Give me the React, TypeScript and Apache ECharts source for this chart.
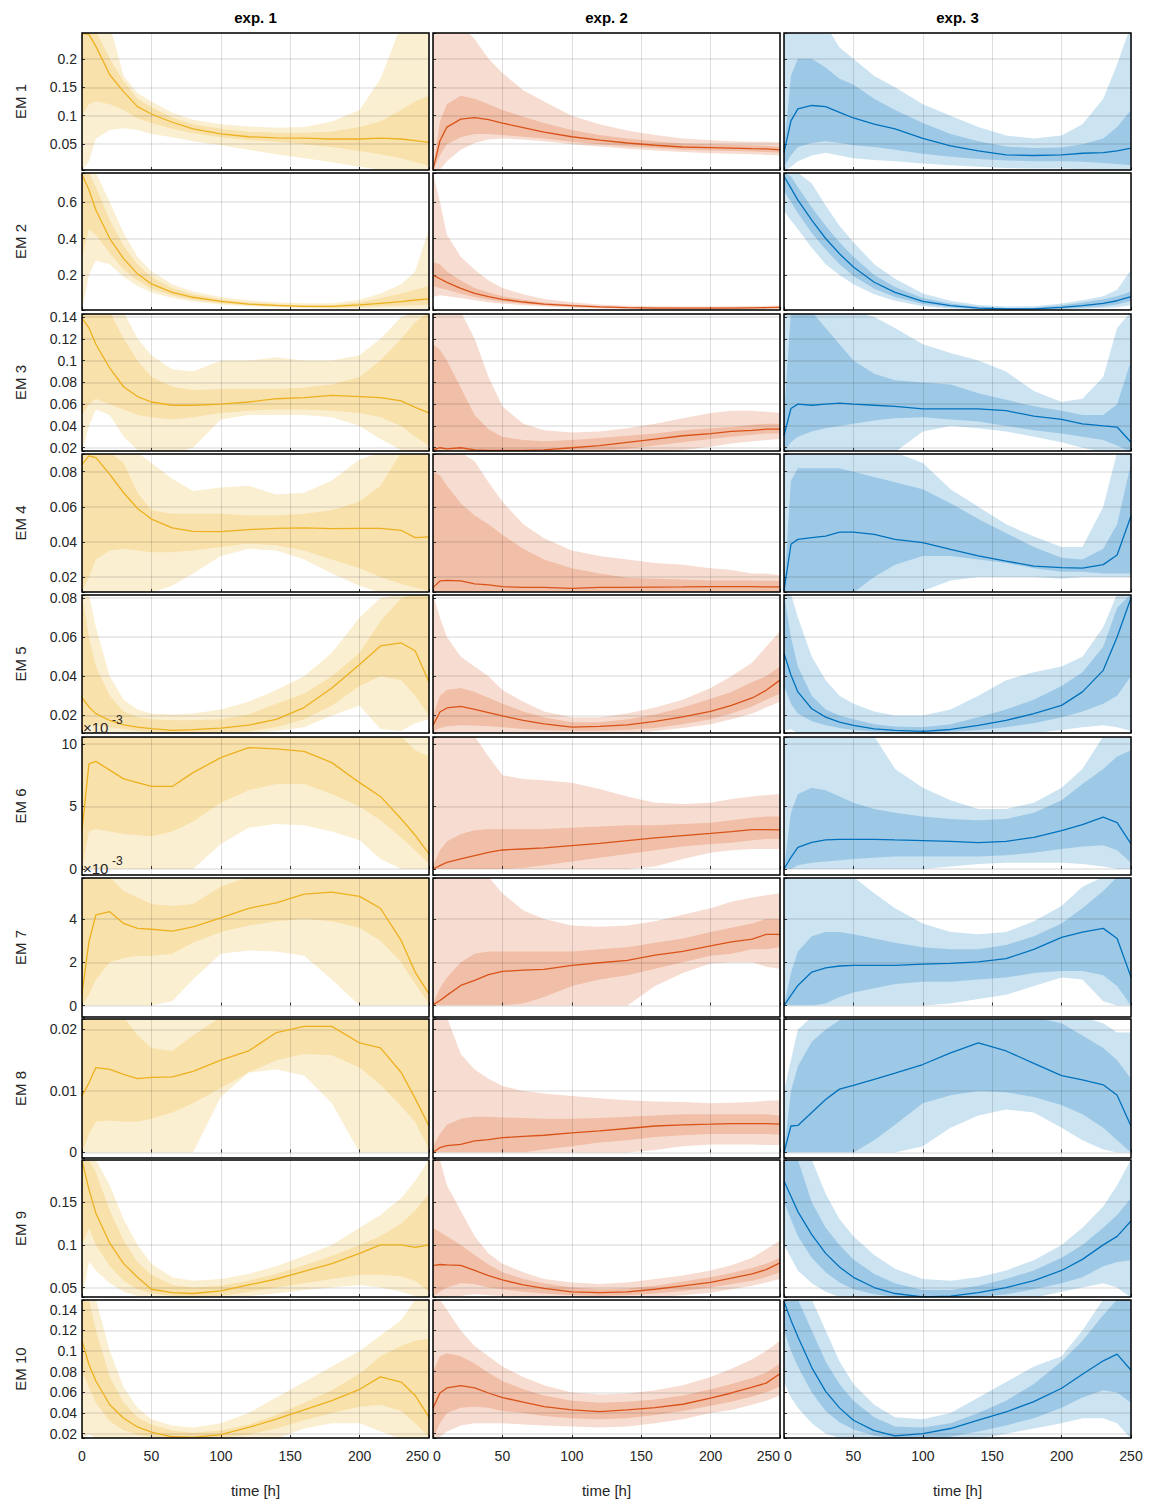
import React, { useEffect, useRef } from "react";
import * as echarts from "echarts";

// time samples [h]
const T = [0, 5, 10, 20, 30, 40, 50, 65, 80, 100, 120, 140, 160, 180, 200, 215, 230, 240, 250];

// Each panel: lo = outer lower, ilo = inner lower, med = median, ihi = inner upper, hi = outer upper
// EM 1
const EM1_E1 = {
  med: [0.245, 0.243, 0.222, 0.172, 0.142, 0.116, 0.103, 0.0885, 0.077, 0.068, 0.063, 0.061, 0.0605, 0.059, 0.059, 0.0605, 0.059, 0.056, 0.053],
  ihi: [0.26, 0.26, 0.25, 0.2, 0.16, 0.13, 0.115, 0.097, 0.085, 0.077, 0.072, 0.07, 0.07, 0.072, 0.08, 0.09, 0.11, 0.125, 0.135],
  ilo: [0.1, 0.12, 0.125, 0.12, 0.11, 0.095, 0.087, 0.077, 0.069, 0.062, 0.057, 0.054, 0.05, 0.045, 0.038, 0.032, 0.025, 0.018, 0.012],
  hi: [0.26, 0.26, 0.26, 0.26, 0.17, 0.14, 0.125, 0.105, 0.093, 0.085, 0.081, 0.079, 0.08, 0.09, 0.11, 0.165, 0.26, 0.3, 0.3],
  lo: [0.004, 0.02, 0.06, 0.075, 0.078, 0.075, 0.068, 0.062, 0.055, 0.048, 0.04, 0.032, 0.025, 0.018, 0.01, 0.005, 0.003, 0.003, 0.003],
};
const EM1_E2 = {
  med: [0.005, 0.056, 0.08, 0.094, 0.0965, 0.093, 0.087, 0.079, 0.071, 0.063, 0.057, 0.052, 0.048, 0.045, 0.044, 0.043, 0.042, 0.0415, 0.04],
  ihi: [0.006, 0.09, 0.12, 0.135, 0.13, 0.12, 0.11, 0.098, 0.087, 0.075, 0.066, 0.06, 0.055, 0.051, 0.05, 0.049, 0.048, 0.047, 0.046],
  ilo: [0.004, 0.03, 0.05, 0.062, 0.068, 0.068, 0.066, 0.063, 0.06, 0.054, 0.05, 0.046, 0.043, 0.04, 0.039, 0.038, 0.037, 0.036, 0.035],
  hi: [0.26, 0.26, 0.26, 0.26, 0.235, 0.2, 0.175, 0.145, 0.125, 0.1, 0.085, 0.074, 0.066, 0.06, 0.057, 0.055, 0.054, 0.054, 0.053],
  lo: [0.003, 0.005, 0.02, 0.04, 0.052, 0.058, 0.06, 0.058, 0.055, 0.05, 0.046, 0.042, 0.039, 0.036, 0.034, 0.033, 0.032, 0.031, 0.03],
};
const EM1_E3 = {
  med: [0.035, 0.091, 0.112, 0.118, 0.116, 0.106, 0.096, 0.085, 0.077, 0.06, 0.047, 0.038, 0.031, 0.03, 0.031, 0.034, 0.035, 0.038, 0.043],
  ihi: [0.04, 0.17, 0.2, 0.2, 0.185, 0.165, 0.155, 0.13, 0.11, 0.087, 0.068, 0.055, 0.046, 0.043, 0.044, 0.05, 0.06, 0.08, 0.11],
  ilo: [0.01, 0.03, 0.045, 0.052, 0.055, 0.052, 0.048, 0.045, 0.04, 0.033, 0.028, 0.024, 0.021, 0.02, 0.02, 0.019, 0.017, 0.015, 0.013],
  hi: [0.26, 0.26, 0.26, 0.26, 0.26, 0.22, 0.2, 0.17, 0.15, 0.12, 0.1, 0.08, 0.065, 0.06, 0.065, 0.085, 0.13, 0.19, 0.26],
  lo: [0.003, 0.01, 0.02, 0.03, 0.035, 0.03, 0.025, 0.022, 0.02, 0.016, 0.013, 0.01, 0.008, 0.007, 0.007, 0.006, 0.005, 0.004, 0.004],
};
// EM 2
const EM2_E1 = {
  med: [0.749, 0.666, 0.556, 0.4, 0.29, 0.207, 0.152, 0.106, 0.079, 0.057, 0.042, 0.035, 0.029, 0.029, 0.037, 0.046, 0.055, 0.064, 0.07],
  ihi: [0.76, 0.76, 0.68, 0.5, 0.36, 0.26, 0.19, 0.13, 0.095, 0.068, 0.05, 0.042, 0.036, 0.036, 0.05, 0.075, 0.1, 0.12, 0.14],
  ilo: [0.3, 0.45, 0.42, 0.32, 0.23, 0.17, 0.125, 0.088, 0.066, 0.047, 0.035, 0.029, 0.024, 0.022, 0.025, 0.03, 0.032, 0.035, 0.04],
  hi: [0.76, 0.76, 0.76, 0.6, 0.43, 0.3, 0.22, 0.15, 0.11, 0.08, 0.062, 0.052, 0.046, 0.046, 0.065, 0.1, 0.15, 0.22, 0.45],
  lo: [0.01, 0.2, 0.28, 0.26, 0.19, 0.14, 0.105, 0.075, 0.056, 0.04, 0.03, 0.024, 0.02, 0.018, 0.018, 0.018, 0.018, 0.016, 0.012],
};
const EM2_E2 = {
  med: [0.2, 0.18, 0.16, 0.128, 0.1, 0.082, 0.068, 0.053, 0.042, 0.033, 0.026, 0.022, 0.02, 0.02, 0.02, 0.02, 0.021, 0.022, 0.024],
  ihi: [0.27, 0.26, 0.22, 0.17, 0.13, 0.105, 0.085, 0.065, 0.051, 0.04, 0.031, 0.026, 0.024, 0.023, 0.023, 0.024, 0.025, 0.026, 0.028],
  ilo: [0.14, 0.13, 0.12, 0.098, 0.08, 0.066, 0.055, 0.043, 0.035, 0.027, 0.022, 0.019, 0.017, 0.017, 0.017, 0.017, 0.018, 0.019, 0.02],
  hi: [0.76, 0.6, 0.42, 0.3, 0.23, 0.17, 0.13, 0.095, 0.07, 0.052, 0.04, 0.033, 0.03, 0.029, 0.029, 0.03, 0.031, 0.032, 0.034],
  lo: [0.08, 0.09, 0.085, 0.075, 0.062, 0.052, 0.044, 0.035, 0.028, 0.022, 0.018, 0.015, 0.014, 0.014, 0.014, 0.014, 0.014, 0.015, 0.016],
};
const EM2_E3 = {
  med: [0.74, 0.675, 0.61, 0.5, 0.4, 0.317, 0.244, 0.161, 0.106, 0.057, 0.033, 0.02, 0.015, 0.016, 0.024, 0.033, 0.046, 0.06, 0.082],
  ihi: [0.76, 0.74, 0.68, 0.57, 0.47, 0.38, 0.3, 0.2, 0.135, 0.075, 0.045, 0.028, 0.02, 0.022, 0.035, 0.05, 0.068, 0.085, 0.11],
  ilo: [0.66, 0.6, 0.54, 0.43, 0.34, 0.26, 0.195, 0.125, 0.08, 0.042, 0.025, 0.015, 0.012, 0.012, 0.016, 0.022, 0.03, 0.04, 0.058],
  hi: [0.76, 0.76, 0.76, 0.7, 0.58, 0.47, 0.38, 0.26, 0.18, 0.1, 0.06, 0.037, 0.028, 0.03, 0.045, 0.062, 0.085, 0.12, 0.23],
  lo: [0.55, 0.5, 0.45, 0.35, 0.26, 0.2, 0.15, 0.095, 0.06, 0.03, 0.018, 0.012, 0.01, 0.01, 0.012, 0.016, 0.02, 0.025, 0.035],
};
// EM 3
const EM3_E1 = {
  med: [0.139, 0.13, 0.115, 0.093, 0.076, 0.067, 0.062, 0.059, 0.059, 0.06, 0.062, 0.065, 0.066, 0.068, 0.067, 0.066, 0.063, 0.057, 0.052],
  ihi: [0.145, 0.145, 0.145, 0.145, 0.12, 0.1, 0.085, 0.076, 0.073, 0.074, 0.074, 0.074, 0.075, 0.078, 0.085, 0.1, 0.12, 0.135, 0.145],
  ilo: [0.05, 0.06, 0.065, 0.06, 0.055, 0.05, 0.048, 0.046, 0.048, 0.052, 0.054, 0.055, 0.055, 0.054, 0.052, 0.048, 0.04, 0.03, 0.022],
  hi: [0.145, 0.145, 0.145, 0.145, 0.145, 0.12, 0.105, 0.092, 0.09, 0.1, 0.1, 0.103, 0.1, 0.1, 0.105, 0.12, 0.14, 0.145, 0.145],
  lo: [0.016, 0.04, 0.055, 0.05, 0.03, 0.018, 0.015, 0.015, 0.02, 0.046, 0.05, 0.05, 0.05, 0.048, 0.04, 0.028, 0.018, 0.015, 0.015],
};
const EM3_E2 = {
  med: [0.018, 0.02, 0.019, 0.02, 0.018, 0.0175, 0.0175, 0.0175, 0.018, 0.02, 0.022, 0.025, 0.028, 0.031, 0.033, 0.035, 0.036, 0.037, 0.037],
  ihi: [0.115, 0.11, 0.1, 0.075, 0.05, 0.037, 0.03, 0.027, 0.026, 0.027, 0.029, 0.031, 0.033, 0.036, 0.038, 0.039, 0.041, 0.042, 0.042],
  ilo: [0.016, 0.016, 0.016, 0.016, 0.016, 0.016, 0.016, 0.016, 0.016, 0.016, 0.017, 0.019, 0.022, 0.025, 0.028, 0.03, 0.032, 0.033, 0.033],
  hi: [0.145, 0.145, 0.145, 0.145, 0.12, 0.085, 0.058, 0.042, 0.036, 0.034, 0.035, 0.038, 0.042, 0.047, 0.052, 0.054, 0.054, 0.053, 0.052],
  lo: [0.015, 0.015, 0.015, 0.015, 0.015, 0.015, 0.015, 0.015, 0.015, 0.015, 0.015, 0.015, 0.016, 0.018, 0.021, 0.024, 0.026, 0.027, 0.028],
};
const EM3_E3 = {
  med: [0.031, 0.056, 0.06, 0.059, 0.06, 0.061, 0.06, 0.059, 0.058, 0.0557, 0.0557, 0.0557, 0.054, 0.049, 0.046, 0.042, 0.04, 0.039, 0.025],
  ihi: [0.05, 0.145, 0.145, 0.145, 0.13, 0.115, 0.1, 0.088, 0.082, 0.08, 0.078, 0.07, 0.064, 0.058, 0.054, 0.05, 0.05, 0.06, 0.1],
  ilo: [0.016, 0.025, 0.03, 0.035, 0.038, 0.04, 0.042, 0.045, 0.047, 0.048, 0.046, 0.044, 0.04, 0.036, 0.033, 0.03, 0.027, 0.022, 0.016],
  hi: [0.145, 0.145, 0.145, 0.145, 0.145, 0.145, 0.145, 0.14, 0.13, 0.115, 0.107, 0.1, 0.09, 0.072, 0.062, 0.065, 0.085, 0.13, 0.145],
  lo: [0.016, 0.016, 0.016, 0.016, 0.016, 0.016, 0.016, 0.016, 0.016, 0.035, 0.04, 0.038, 0.035, 0.03, 0.025, 0.02, 0.016, 0.016, 0.016],
};
// EM 4
const EM4_E1 = {
  med: [0.084, 0.089, 0.088, 0.0785, 0.068, 0.059, 0.053, 0.048, 0.046, 0.0458, 0.047, 0.0477, 0.048, 0.0475, 0.0477, 0.0477, 0.0466, 0.0424, 0.0428],
  ihi: [0.091, 0.091, 0.091, 0.091, 0.085, 0.068, 0.058, 0.056, 0.056, 0.056, 0.055, 0.055, 0.056, 0.058, 0.063, 0.072, 0.091, 0.091, 0.091],
  ilo: [0.012, 0.02, 0.03, 0.035, 0.036, 0.035, 0.034, 0.034, 0.035, 0.037, 0.039, 0.038, 0.035, 0.03, 0.025, 0.02, 0.016, 0.014, 0.012],
  hi: [0.091, 0.091, 0.091, 0.091, 0.091, 0.091, 0.085, 0.076, 0.069, 0.071, 0.072, 0.067, 0.068, 0.075, 0.087, 0.091, 0.091, 0.091, 0.091],
  lo: [0.011, 0.011, 0.011, 0.011, 0.011, 0.011, 0.011, 0.015, 0.022, 0.032, 0.036, 0.035, 0.03, 0.022, 0.015, 0.011, 0.011, 0.011, 0.011],
};
const EM4_E2 = {
  med: [0.0139, 0.0177, 0.018, 0.0177, 0.016, 0.0155, 0.0145, 0.014, 0.014, 0.0135, 0.014, 0.014, 0.0142, 0.0143, 0.0145, 0.0145, 0.0145, 0.0143, 0.0143],
  ihi: [0.08, 0.078, 0.072, 0.062, 0.055, 0.05, 0.044, 0.036, 0.03, 0.025, 0.022, 0.0195, 0.019, 0.0185, 0.018, 0.018, 0.018, 0.0178, 0.0178],
  ilo: [0.0112, 0.0112, 0.0112, 0.0112, 0.0112, 0.0112, 0.0112, 0.0112, 0.0112, 0.0112, 0.0112, 0.0112, 0.0112, 0.0112, 0.0112, 0.0112, 0.0112, 0.0112, 0.0112],
  hi: [0.091, 0.091, 0.091, 0.091, 0.086, 0.074, 0.063, 0.05, 0.042, 0.035, 0.032, 0.03, 0.028, 0.027, 0.025, 0.024, 0.022, 0.022, 0.021],
  lo: [0.011, 0.011, 0.011, 0.011, 0.011, 0.011, 0.011, 0.011, 0.011, 0.011, 0.011, 0.011, 0.011, 0.011, 0.011, 0.011, 0.011, 0.011, 0.011],
};
const EM4_E3 = {
  med: [0.012, 0.0386, 0.0414, 0.0424, 0.0433, 0.0456, 0.0456, 0.0443, 0.0414, 0.0395, 0.0357, 0.032, 0.029, 0.0262, 0.0253, 0.025, 0.027, 0.0325, 0.0547],
  ihi: [0.012, 0.075, 0.082, 0.082, 0.082, 0.082, 0.08, 0.077, 0.074, 0.07, 0.062, 0.053, 0.045, 0.037, 0.031, 0.03, 0.036, 0.05, 0.085],
  ilo: [0.011, 0.011, 0.011, 0.011, 0.011, 0.011, 0.011, 0.02, 0.027, 0.032, 0.032, 0.03, 0.028, 0.025, 0.023, 0.023, 0.022, 0.022, 0.022],
  hi: [0.091, 0.091, 0.091, 0.091, 0.091, 0.091, 0.091, 0.091, 0.091, 0.085, 0.07, 0.06, 0.05, 0.043, 0.037, 0.037, 0.06, 0.091, 0.091],
  lo: [0.011, 0.011, 0.011, 0.011, 0.011, 0.011, 0.011, 0.011, 0.011, 0.012, 0.018, 0.02, 0.02, 0.02, 0.019, 0.02, 0.02, 0.02, 0.02],
};
// EM 5
const EM5_E1 = {
  med: [0.029, 0.0243, 0.0209, 0.0174, 0.0152, 0.014, 0.0132, 0.0123, 0.0127, 0.0135, 0.015, 0.018, 0.024, 0.034, 0.046, 0.0555, 0.057, 0.053, 0.037],
  ihi: [0.082, 0.06, 0.045, 0.03, 0.022, 0.019, 0.018, 0.0175, 0.0175, 0.018, 0.0205, 0.026, 0.031, 0.04, 0.052, 0.068, 0.08, 0.082, 0.082],
  ilo: [0.012, 0.015, 0.015, 0.014, 0.013, 0.012, 0.0115, 0.0113, 0.0113, 0.0113, 0.0118, 0.014, 0.018, 0.025, 0.035, 0.04, 0.038, 0.03, 0.02],
  hi: [0.082, 0.082, 0.065, 0.04, 0.028, 0.023, 0.021, 0.0205, 0.021, 0.023, 0.027, 0.033, 0.04, 0.052, 0.07, 0.08, 0.082, 0.082, 0.082],
  lo: [0.0105, 0.0105, 0.0105, 0.0105, 0.0105, 0.0105, 0.0105, 0.0105, 0.0105, 0.0105, 0.0105, 0.012, 0.014, 0.02, 0.025, 0.013, 0.012, 0.016, 0.018],
};
const EM5_E2 = {
  med: [0.0149, 0.0217, 0.0238, 0.0246, 0.0231, 0.0214, 0.0197, 0.0174, 0.0157, 0.014, 0.0144, 0.0152, 0.0169, 0.0192, 0.0221, 0.0251, 0.0289, 0.0328, 0.038],
  ihi: [0.02, 0.03, 0.033, 0.034, 0.032, 0.029, 0.026, 0.022, 0.019, 0.0165, 0.0165, 0.018, 0.0205, 0.024, 0.0285, 0.032, 0.037, 0.04, 0.045],
  ilo: [0.012, 0.0135, 0.0145, 0.015, 0.0148, 0.0145, 0.014, 0.013, 0.0125, 0.0122, 0.0122, 0.0126, 0.0135, 0.0155, 0.018, 0.021, 0.0245, 0.028, 0.031],
  hi: [0.082, 0.07, 0.06, 0.05, 0.045, 0.04, 0.033, 0.027, 0.022, 0.019, 0.019, 0.021, 0.024, 0.028, 0.034, 0.04, 0.047, 0.055, 0.063],
  lo: [0.0105, 0.0105, 0.0105, 0.0105, 0.0105, 0.0105, 0.0105, 0.0105, 0.0105, 0.0105, 0.0105, 0.0105, 0.012, 0.0135, 0.0155, 0.018, 0.021, 0.024, 0.027],
};
const EM5_E3 = {
  med: [0.0517, 0.0406, 0.032, 0.0234, 0.0191, 0.0166, 0.0149, 0.0131, 0.0123, 0.0118, 0.0128, 0.0149, 0.0174, 0.0209, 0.0251, 0.032, 0.043, 0.06, 0.08],
  ihi: [0.082, 0.06, 0.045, 0.03, 0.023, 0.02, 0.018, 0.0155, 0.0143, 0.014, 0.0155, 0.019, 0.023, 0.028, 0.035, 0.042, 0.055, 0.075, 0.082],
  ilo: [0.035, 0.026, 0.021, 0.017, 0.015, 0.0135, 0.0125, 0.0118, 0.0114, 0.0114, 0.0117, 0.0125, 0.014, 0.016, 0.019, 0.022, 0.026, 0.03, 0.04],
  hi: [0.082, 0.082, 0.07, 0.05, 0.038, 0.03, 0.026, 0.022, 0.02, 0.02, 0.023, 0.03, 0.038, 0.042, 0.045, 0.05, 0.065, 0.082, 0.082],
  lo: [0.012, 0.013, 0.0105, 0.0105, 0.0105, 0.0105, 0.0105, 0.0105, 0.0105, 0.0105, 0.0105, 0.0105, 0.0105, 0.011, 0.0125, 0.014, 0.015, 0.014, 0.012],
};
// EM 6 (values in units of 10^-3)
const EM6_E1 = {
  med: [3.07, 8.4, 8.6, 7.9, 7.2, 6.9, 6.6, 6.6, 7.7, 8.9, 9.7, 9.6, 9.4, 8.5, 6.9, 5.8, 4.0, 2.7, 1.2],
  ihi: [10.6, 10.6, 10.6, 10.6, 10.6, 10.6, 10.6, 10.6, 10.6, 10.6, 10.6, 10.6, 10.6, 10.6, 10.6, 10.6, 10.6, 9.5, 9.0],
  ilo: [0.0, 3.0, 3.2, 3.0, 2.8, 2.7, 2.6, 3.0, 3.8, 5.3, 6.3, 6.8, 6.8, 6.0, 5.0, 3.9, 2.5, 1.5, 0.4],
  hi: [10.6, 10.6, 10.6, 10.6, 10.6, 10.6, 10.6, 10.6, 10.6, 10.6, 10.6, 10.6, 10.6, 10.6, 10.6, 10.6, 10.6, 10.6, 10.6],
  lo: [0, 0, 0, 0, 0, 0, 0, 0, 0.0, 2.0, 3.3, 3.6, 3.5, 3.0, 2.3, 0.8, 0, 0, 0],
};
const EM6_E2 = {
  med: [0.0, 0.27, 0.53, 0.8, 1.07, 1.33, 1.52, 1.6, 1.68, 1.87, 2.05, 2.27, 2.48, 2.67, 2.85, 2.99, 3.15, 3.15, 3.12],
  ihi: [0.3, 1.5, 2.2, 2.8, 3.1, 3.2, 3.2, 3.2, 3.2, 3.3, 3.4, 3.5, 3.5, 3.6, 3.7, 3.9, 4.1, 4.2, 4.2],
  ilo: [0, 0, 0, 0, 0, 0, 0, 0.1, 0.3, 0.6, 0.9, 1.2, 1.5, 1.8, 2.0, 2.1, 2.3, 2.4, 2.4],
  hi: [10.6, 10.6, 10.6, 10.6, 10.6, 9.0, 7.5, 7.2, 7.1, 6.9, 6.4, 5.8, 5.3, 5.2, 5.3, 5.6, 5.8, 5.9, 6.0],
  lo: [0, 0, 0, 0, 0, 0, 0, 0, 0, 0, 0, 0, 0.2, 0.8, 1.3, 1.5, 1.6, 1.6, 1.6],
};
const EM6_E3 = {
  med: [0.0, 0.93, 1.73, 2.13, 2.32, 2.37, 2.37, 2.37, 2.32, 2.27, 2.21, 2.1, 2.21, 2.53, 3.07, 3.55, 4.15, 3.7, 2.0],
  ihi: [0.0, 4.5, 6.0, 6.5, 6.3, 5.8, 5.3, 4.8, 4.5, 4.2, 4.0, 3.9, 4.0, 4.5, 5.5, 6.8, 8.0, 9.0, 9.5],
  ilo: [0.0, 0.0, 0.3, 0.5, 0.6, 0.7, 0.8, 0.9, 1.0, 1.0, 1.0, 1.0, 1.1, 1.3, 1.6, 1.8, 1.9, 1.5, 0.5],
  hi: [10.6, 10.6, 10.6, 10.6, 10.6, 10.6, 10.6, 10.6, 8.0, 6.5, 5.5, 4.8, 4.8, 5.3, 6.5, 8.0, 10.6, 10.6, 10.6],
  lo: [0, 0, 0, 0, 0, 0, 0, 0, 0, 0, 0.2, 0.4, 0.5, 0.5, 0.5, 0.4, 0.2, 0, 0],
};
// EM 7 (values in units of 10^-3)
const EM7_E1 = {
  med: [0.54, 2.95, 4.19, 4.34, 3.8, 3.57, 3.53, 3.44, 3.64, 4.06, 4.5, 4.75, 5.15, 5.25, 5.05, 4.5, 3.0, 1.55, 0.54],
  ihi: [5.95, 5.95, 5.95, 5.95, 5.3, 5.0, 4.7, 4.6, 4.7, 5.5, 5.95, 5.95, 5.95, 5.95, 5.95, 5.95, 5.95, 5.95, 5.95],
  ilo: [0.0, 0.5, 1.2, 2.0, 2.2, 2.3, 2.3, 2.4, 2.9, 3.4, 3.7, 3.9, 4.0, 3.9, 3.6, 3.0, 2.0, 1.0, 0.1],
  hi: [5.95, 5.95, 5.95, 5.95, 5.95, 5.95, 5.95, 5.95, 5.95, 5.95, 5.95, 5.95, 5.95, 5.95, 5.95, 5.95, 5.95, 5.95, 5.95],
  lo: [0, 0, 0, 0, 0, 0, 0, 0.2, 1.2, 2.4, 2.55, 2.5, 2.3, 1.2, 0.0, 0, 0, 0, 0],
};
const EM7_E2 = {
  med: [0.03, 0.23, 0.47, 0.93, 1.16, 1.43, 1.58, 1.64, 1.67, 1.86, 1.98, 2.09, 2.33, 2.51, 2.76, 2.95, 3.07, 3.29, 3.29],
  ihi: [0.1, 0.8, 1.3, 2.0, 2.4, 2.5, 2.5, 2.5, 2.5, 2.5, 2.6, 2.7, 2.9, 3.1, 3.4, 3.6, 3.8, 4.0, 4.0],
  ilo: [0, 0, 0, 0, 0, 0, 0, 0.1, 0.4, 0.9, 1.2, 1.4, 1.7, 2.0, 2.3, 2.4, 2.6, 2.6, 2.7],
  hi: [5.95, 5.95, 5.95, 5.95, 5.95, 5.95, 5.2, 4.4, 4.0, 3.7, 3.65, 3.7, 3.9, 4.2, 4.5, 4.8, 5.0, 5.1, 5.2],
  lo: [0, 0, 0, 0, 0, 0, 0, 0, 0, 0, 0, 0, 0.9, 1.5, 1.95, 2.0, 2.0, 1.8, 1.7],
};
const EM7_E3 = {
  med: [0.0, 0.47, 0.93, 1.55, 1.74, 1.83, 1.86, 1.86, 1.86, 1.92, 1.95, 2.02, 2.17, 2.6, 3.15, 3.4, 3.57, 3.1, 1.32],
  ihi: [0.0, 1.5, 2.5, 3.2, 3.4, 3.4, 3.3, 3.1, 2.9, 2.7, 2.6, 2.6, 2.8, 3.2, 3.8, 4.5, 5.3, 5.95, 5.95],
  ilo: [0, 0, 0, 0, 0.1, 0.4, 0.6, 0.8, 1.0, 1.1, 1.1, 1.2, 1.3, 1.5, 1.6, 1.6, 1.4, 0.9, 0.0],
  hi: [5.95, 5.95, 5.95, 5.95, 5.95, 5.95, 5.95, 5.2, 4.5, 3.8, 3.4, 3.3, 3.4, 3.9, 4.6, 5.5, 5.95, 5.95, 5.95],
  lo: [0, 0, 0, 0, 0, 0, 0, 0, 0, 0, 0.1, 0.3, 0.5, 0.9, 1.3, 1.2, 0.2, 0, 0],
};
// EM 8
const EM8_E1 = {
  med: [0.0092, 0.0113, 0.0138, 0.0135, 0.0127, 0.012, 0.0122, 0.0123, 0.0132, 0.015, 0.0165, 0.0195, 0.0205, 0.0205, 0.0178, 0.017, 0.013, 0.0088, 0.0043],
  ihi: [0.022, 0.022, 0.022, 0.022, 0.022, 0.019, 0.017, 0.0165, 0.019, 0.022, 0.022, 0.022, 0.022, 0.022, 0.022, 0.022, 0.022, 0.022, 0.022],
  ilo: [0.0, 0.003, 0.005, 0.0052, 0.005, 0.005, 0.0055, 0.0065, 0.008, 0.0105, 0.013, 0.015, 0.016, 0.0158, 0.0138, 0.011, 0.0075, 0.005, 0.0005],
  hi: [0.022, 0.022, 0.022, 0.022, 0.022, 0.022, 0.022, 0.022, 0.022, 0.022, 0.022, 0.022, 0.022, 0.022, 0.022, 0.022, 0.022, 0.022, 0.022],
  lo: [0, 0, 0, 0, 0, 0, 0, 0, 0, 0.009, 0.013, 0.0135, 0.0125, 0.008, 0, 0, 0, 0, 0],
};
const EM8_E2 = {
  med: [0.0, 0.0008, 0.0011, 0.0013, 0.0019, 0.0021, 0.0024, 0.0026, 0.0028, 0.0032, 0.0035, 0.0039, 0.0043, 0.0045, 0.0046, 0.0047, 0.0047, 0.0047, 0.0046],
  ihi: [0.001, 0.003, 0.0045, 0.0055, 0.0058, 0.0058, 0.0057, 0.0056, 0.0055, 0.0055, 0.0056, 0.0058, 0.006, 0.0062, 0.0062, 0.0062, 0.0062, 0.0062, 0.006],
  ilo: [0, 0, 0, 0, 0, 0, 0, 0, 0.0005, 0.001, 0.0016, 0.002, 0.0025, 0.0028, 0.003, 0.003, 0.003, 0.003, 0.0029],
  hi: [0.022, 0.022, 0.022, 0.016, 0.0135, 0.012, 0.0108, 0.01, 0.0096, 0.0092, 0.0088, 0.0085, 0.0083, 0.0082, 0.008, 0.0081, 0.0082, 0.0084, 0.0085],
  lo: [0, 0, 0, 0, 0, 0, 0, 0, 0, 0, 0, 0, 0.0004, 0.001, 0.0013, 0.0013, 0.0013, 0.0012, 0.0012],
};
const EM8_E3 = {
  med: [0.0, 0.0043, 0.0044, 0.0065, 0.0086, 0.0103, 0.0109, 0.0119, 0.0129, 0.0143, 0.0162, 0.0178, 0.0165, 0.0145, 0.0125, 0.0118, 0.011, 0.0093, 0.0043],
  ihi: [0.0, 0.01, 0.014, 0.018, 0.02, 0.0215, 0.022, 0.022, 0.022, 0.022, 0.022, 0.022, 0.022, 0.022, 0.021, 0.019, 0.017, 0.015, 0.012],
  ilo: [0, 0, 0, 0, 0, 0, 0, 0.002, 0.0045, 0.008, 0.0093, 0.01, 0.0098, 0.009, 0.0077, 0.0062, 0.004, 0.002, 0],
  hi: [0.01, 0.015, 0.02, 0.022, 0.022, 0.022, 0.022, 0.022, 0.022, 0.022, 0.022, 0.022, 0.022, 0.022, 0.022, 0.022, 0.021, 0.0195, 0.0195],
  lo: [0, 0, 0, 0, 0, 0, 0, 0, 0, 0.001, 0.004, 0.006, 0.007, 0.0065, 0.004, 0.002, 0.0005, 0, 0],
};
// EM 9
const EM9_E1 = {
  med: [0.199, 0.165, 0.137, 0.102, 0.078, 0.062, 0.048, 0.044, 0.043, 0.046, 0.053, 0.06, 0.069, 0.078, 0.09, 0.1, 0.1, 0.097, 0.1],
  ihi: [0.2, 0.2, 0.185, 0.14, 0.105, 0.08, 0.065, 0.053, 0.05, 0.052, 0.058, 0.066, 0.076, 0.087, 0.1, 0.11, 0.125, 0.14, 0.16],
  ilo: [0.1, 0.12, 0.1, 0.075, 0.058, 0.048, 0.043, 0.04, 0.039, 0.04, 0.045, 0.05, 0.055, 0.06, 0.065, 0.065, 0.063, 0.058, 0.045],
  hi: [0.2, 0.2, 0.2, 0.17, 0.13, 0.1, 0.078, 0.062, 0.058, 0.06, 0.066, 0.075, 0.087, 0.1, 0.12, 0.135, 0.155, 0.175, 0.2],
  lo: [0.038, 0.08, 0.07, 0.055, 0.045, 0.04, 0.038, 0.038, 0.038, 0.038, 0.04, 0.043, 0.047, 0.05, 0.053, 0.05, 0.045, 0.04, 0.038],
};
const EM9_E2 = {
  med: [0.0758, 0.077, 0.0766, 0.076, 0.07, 0.064, 0.059, 0.053, 0.049, 0.045, 0.044, 0.045, 0.048, 0.052, 0.056, 0.061, 0.066, 0.071, 0.079],
  ihi: [0.12, 0.115, 0.11, 0.1, 0.088, 0.077, 0.068, 0.06, 0.055, 0.05, 0.048, 0.049, 0.052, 0.057, 0.062, 0.067, 0.073, 0.078, 0.085],
  ilo: [0.04, 0.045, 0.05, 0.055, 0.054, 0.05, 0.048, 0.045, 0.043, 0.041, 0.04, 0.041, 0.043, 0.046, 0.05, 0.054, 0.058, 0.062, 0.068],
  hi: [0.2, 0.2, 0.17, 0.14, 0.11, 0.09, 0.078, 0.068, 0.06, 0.056, 0.054, 0.056, 0.06, 0.064, 0.07, 0.076, 0.085, 0.095, 0.105],
  lo: [0.038, 0.038, 0.038, 0.04, 0.042, 0.041, 0.04, 0.039, 0.038, 0.038, 0.038, 0.038, 0.038, 0.041, 0.044, 0.048, 0.052, 0.056, 0.06],
};
const EM9_E3 = {
  med: [0.175, 0.157, 0.139, 0.112, 0.09, 0.074, 0.062, 0.05, 0.043, 0.039, 0.04, 0.044, 0.05, 0.058, 0.07, 0.083, 0.1, 0.11, 0.128],
  ihi: [0.2, 0.2, 0.2, 0.15, 0.12, 0.1, 0.083, 0.066, 0.055, 0.047, 0.047, 0.052, 0.06, 0.07, 0.085, 0.1, 0.12, 0.135, 0.155],
  ilo: [0.15, 0.13, 0.11, 0.085, 0.068, 0.056, 0.048, 0.042, 0.039, 0.038, 0.038, 0.039, 0.042, 0.048, 0.055, 0.062, 0.075, 0.08, 0.082],
  hi: [0.2, 0.2, 0.2, 0.2, 0.16, 0.13, 0.11, 0.088, 0.072, 0.06, 0.058, 0.062, 0.07, 0.082, 0.1, 0.12, 0.145, 0.17, 0.2],
  lo: [0.1, 0.085, 0.07, 0.055, 0.045, 0.039, 0.038, 0.038, 0.038, 0.038, 0.038, 0.038, 0.038, 0.038, 0.045, 0.05, 0.055, 0.05, 0.038],
};
// EM 10
const EM10_E1 = {
  med: [0.11, 0.087, 0.071, 0.048, 0.035, 0.0265, 0.0215, 0.017, 0.0165, 0.019, 0.026, 0.034, 0.043, 0.052, 0.063, 0.075, 0.07, 0.057, 0.036],
  ihi: [0.15, 0.15, 0.12, 0.075, 0.05, 0.036, 0.029, 0.023, 0.021, 0.023, 0.029, 0.038, 0.05, 0.062, 0.078, 0.095, 0.105, 0.11, 0.112],
  ilo: [0.08, 0.065, 0.05, 0.032, 0.023, 0.019, 0.017, 0.0155, 0.015, 0.016, 0.019, 0.025, 0.033, 0.04, 0.046, 0.048, 0.042, 0.03, 0.017],
  hi: [0.15, 0.15, 0.15, 0.1, 0.065, 0.045, 0.034, 0.028, 0.026, 0.03, 0.04, 0.055, 0.07, 0.085, 0.1, 0.115, 0.13, 0.15, 0.15],
  lo: [0.015, 0.02, 0.015, 0.015, 0.015, 0.015, 0.015, 0.015, 0.015, 0.015, 0.015, 0.015, 0.025, 0.03, 0.03, 0.022, 0.015, 0.015, 0.015],
};
const EM10_E2 = {
  med: [0.0446, 0.0594, 0.0643, 0.0666, 0.0643, 0.0594, 0.055, 0.0505, 0.0462, 0.043, 0.0413, 0.043, 0.0453, 0.0485, 0.0545, 0.0594, 0.065, 0.069, 0.078],
  ihi: [0.08, 0.095, 0.098, 0.095, 0.088, 0.079, 0.071, 0.063, 0.057, 0.052, 0.05, 0.051, 0.053, 0.057, 0.063, 0.068, 0.074, 0.079, 0.088],
  ilo: [0.015, 0.03, 0.04, 0.045, 0.046, 0.045, 0.042, 0.04, 0.037, 0.035, 0.034, 0.035, 0.038, 0.042, 0.047, 0.051, 0.056, 0.06, 0.066],
  hi: [0.15, 0.15, 0.14, 0.12, 0.105, 0.095, 0.085, 0.075, 0.067, 0.06, 0.058, 0.059, 0.062, 0.067, 0.075, 0.083, 0.092, 0.1, 0.11],
  lo: [0.015, 0.017, 0.022, 0.028, 0.03, 0.03, 0.03, 0.029, 0.028, 0.027, 0.026, 0.027, 0.03, 0.034, 0.04, 0.043, 0.048, 0.052, 0.057],
};
const EM10_E3 = {
  med: [0.148, 0.13, 0.114, 0.084, 0.061, 0.045, 0.033, 0.023, 0.0178, 0.02, 0.025, 0.033, 0.041, 0.051, 0.064, 0.0775, 0.0906, 0.097, 0.0814],
  ihi: [0.15, 0.15, 0.15, 0.12, 0.09, 0.068, 0.052, 0.036, 0.027, 0.026, 0.03, 0.04, 0.052, 0.068, 0.09, 0.11, 0.135, 0.15, 0.15],
  ilo: [0.12, 0.1, 0.085, 0.06, 0.042, 0.031, 0.024, 0.018, 0.0155, 0.0155, 0.017, 0.022, 0.028, 0.035, 0.045, 0.055, 0.062, 0.06, 0.05],
  hi: [0.15, 0.15, 0.15, 0.15, 0.12, 0.09, 0.068, 0.048, 0.036, 0.034, 0.04, 0.055, 0.07, 0.085, 0.095, 0.12, 0.15, 0.15, 0.15],
  lo: [0.07, 0.055, 0.045, 0.03, 0.02, 0.016, 0.015, 0.015, 0.015, 0.015, 0.015, 0.015, 0.02, 0.025, 0.03, 0.035, 0.035, 0.03, 0.015],
};

const PANELS = [
  [EM1_E1, EM1_E2, EM1_E3],
  [EM2_E1, EM2_E2, EM2_E3],
  [EM3_E1, EM3_E2, EM3_E3],
  [EM4_E1, EM4_E2, EM4_E3],
  [EM5_E1, EM5_E2, EM5_E3],
  [EM6_E1, EM6_E2, EM6_E3],
  [EM7_E1, EM7_E2, EM7_E3],
  [EM8_E1, EM8_E2, EM8_E3],
  [EM9_E1, EM9_E2, EM9_E3],
  [EM10_E1, EM10_E2, EM10_E3],
];

const ROW_NAMES = ["EM 1", "EM 2", "EM 3", "EM 4", "EM 5", "EM 6", "EM 7", "EM 8", "EM 9", "EM 10"];
const COL_TITLES = ["exp. 1", "exp. 2", "exp. 3"];
const X_LABEL = "time [h]";
const X_MIN = 0;
const X_MAX = 250;
const X_STEP = 50;
const Y_MIN = [0.0045, 0.0094, 0.017, 0.0114, 0.011, -0.48, -0.53, -0.0009, 0.0389, 0.0158];
const Y_MAX = [0.2455, 0.758, 0.1428, 0.0901, 0.0815, 10.55, 5.9, 0.0217, 0.1995, 0.1495];
const Y_STEP = [0.05, 0.2, 0.02, 0.02, 0.02, 5, 2, 0.01, 0.05, 0.02];
const SCALED_ROWS = [5, 6]; // rows whose values are shown in units of 10^-3

// layout (pixels)
const COL_LEFT = [82, 433, 784];
const COL_W = 347;
const ROW_TOP = [33, 173, 314, 454, 595, 737, 878, 1019, 1160, 1300];
const ROW_H = [137, 137, 137, 138, 138, 138, 139, 139, 137, 138];
const COLORS = ["#EDB120", "#D95319", "#0072BD"];
const FONT = '"Liberation Sans", Arial, Helvetica, sans-serif';

function mix(hex: string, a: number): string {
  const n = parseInt(hex.slice(1), 16);
  const r = (n >> 16) & 255, g = (n >> 8) & 255, b = n & 255;
  const m = (c: number) => Math.round(255 - a * (255 - c));
  return `rgb(${m(r)},${m(g)},${m(b)})`;
}

function tickFmt(step: number) {
  return (v: number) => {
    const k = v / step;
    if (Math.abs(k - Math.round(k)) > 1e-6) return "";
    const s = String(parseFloat(v.toFixed(6)));
    return s === "-0" ? "0" : s;
  };
}

export default function App() {
  const ref = useRef<HTMLDivElement>(null);
  useEffect(() => {
    if (!ref.current) return;
    const chart = echarts.init(ref.current, undefined, { renderer: "svg" });
    const grid: any[] = [];
    const xAxis: any[] = [];
    const yAxis: any[] = [];
    const series: any[] = [];
    const graphic: any[] = [];

    for (let r = 0; r < 10; r++) {
      for (let c = 0; c < 3; c++) {
        const idx = r * 3 + c;
        const P = PANELS[r][c];
        const col = COLORS[c];
        const light = mix(col, 0.2);
        const dark = mix(col, 0.38);
        grid.push({
          left: COL_LEFT[c],
          top: ROW_TOP[r],
          width: COL_W,
          height: ROW_H[r],
          show: false,
        });
        const bottomRow = r === 9;
        xAxis.push({
          gridIndex: idx,
          type: "value",
          min: X_MIN,
          max: X_MAX,
          interval: X_STEP,
          z: 5,
          axisLine: { show: false },
          axisTick: { show: true, inside: true, length: 3, lineStyle: { color: "#333", width: 1 } },
          axisLabel: {
            show: bottomRow,
            fontSize: 14,
            fontFamily: FONT,
            color: "#262626",
            margin: 11,
            alignMinLabel: c === 0 ? "center" : "left",
            alignMaxLabel: c === 2 ? "center" : "right",
          },
          splitLine: { show: true, lineStyle: { color: "rgba(0,0,0,0.13)", width: 1 } },
        });
        yAxis.push({
          gridIndex: idx,
          type: "value",
          min: Y_MIN[r],
          max: Y_MAX[r],
          splitNumber: 5,
          minInterval: Y_STEP[r],
          maxInterval: Y_STEP[r],
          z: 5,
          axisLine: { show: false },
          axisTick: { show: true, inside: true, length: 3, lineStyle: { color: "#333", width: 1 } },
          axisLabel: {
            show: c === 0,
            fontSize: 14,
            fontFamily: FONT,
            color: "#262626",
            margin: 5,
            formatter: tickFmt(Y_STEP[r]),
          },
          splitLine: { show: true, lineStyle: { color: "rgba(0,0,0,0.11)", width: 1.6 } },
        });
        // Bands: each edge filled down to the axis bottom, painted from top edge to bottom edge
        const edges: [number[], string][] = [
          [P.hi, light],
          [P.ihi, dark],
          [P.ilo, light],
          [P.lo, "#ffffff"],
        ];
        for (const [vals, fill] of edges) {
          series.push({
            type: "line",
            xAxisIndex: idx,
            yAxisIndex: idx,
            symbol: "none",
            showSymbol: false,
            silent: true,
            data: T.map((t, k) => [t, vals[k]]),
            lineStyle: { width: 0, opacity: 0 },
            areaStyle: { color: fill, opacity: 1, origin: "start" },
            z: 2,
          });
        }
        series.push({
          type: "line",
          xAxisIndex: idx,
          yAxisIndex: idx,
          symbol: "none",
          showSymbol: false,
          silent: true,
          data: T.map((t, k) => [t, P.med[k]]),
          lineStyle: { color: col, width: 1.3 },
          z: 6,
        });
        graphic.push({
          type: "rect",
          silent: true,
          z: 100,
          shape: { x: COL_LEFT[c], y: ROW_TOP[r], width: COL_W, height: ROW_H[r] },
          style: { fill: "transparent", stroke: "#000", lineWidth: 1.5 },
        });
      }
      // row name
      graphic.push({
        type: "text",
        silent: true,
        z: 100,
        x: 20,
        y: ROW_TOP[r] + ROW_H[r] / 2,
        rotation: Math.PI / 2,
        style: {
          text: ROW_NAMES[r],
          font: `15px ${FONT}`,
          fill: "#262626",
          align: "center",
          verticalAlign: "middle",
          textAlign: "center",
          textVerticalAlign: "middle",
        },
      });
    }
    // ×10^-3 annotations
    for (const r of SCALED_ROWS) {
      graphic.push({
        type: "text",
        silent: true,
        z: 101,
        x: 83,
        y: ROW_TOP[r] - 10,
        style: { text: "×10", font: `15px ${FONT}`, fill: "#262626", align: "left", verticalAlign: "middle", textAlign: "left", textVerticalAlign: "middle" },
      });
      graphic.push({
        type: "text",
        silent: true,
        z: 101,
        x: 112,
        y: ROW_TOP[r] - 17,
        style: { text: "-3", font: `12px ${FONT}`, fill: "#262626", align: "left", verticalAlign: "middle", textAlign: "left", textVerticalAlign: "middle" },
      });
    }
    // column titles and x labels
    for (let c = 0; c < 3; c++) {
      const cx = COL_LEFT[c] + COL_W / 2;
      graphic.push({
        type: "text",
        silent: true,
        z: 100,
        x: cx,
        y: 17,
        style: { text: COL_TITLES[c], font: `bold 15px ${FONT}`, fill: "#000", align: "center", verticalAlign: "middle", textAlign: "center", textVerticalAlign: "middle" },
      });
      graphic.push({
        type: "text",
        silent: true,
        z: 100,
        x: cx,
        y: 1490,
        style: { text: X_LABEL, font: `15px ${FONT}`, fill: "#262626", align: "center", verticalAlign: "middle", textAlign: "center", textVerticalAlign: "middle" },
      });
    }

    chart.setOption({
      animation: false,
      backgroundColor: "#ffffff",
      grid,
      xAxis,
      yAxis,
      series,
      graphic,
    });
    return () => chart.dispose();
  }, []);
  return (
    <div
      ref={ref}
      style={{ position: "absolute", left: 0, top: 0, width: 1151, height: 1503 }}
    />
  );
}
